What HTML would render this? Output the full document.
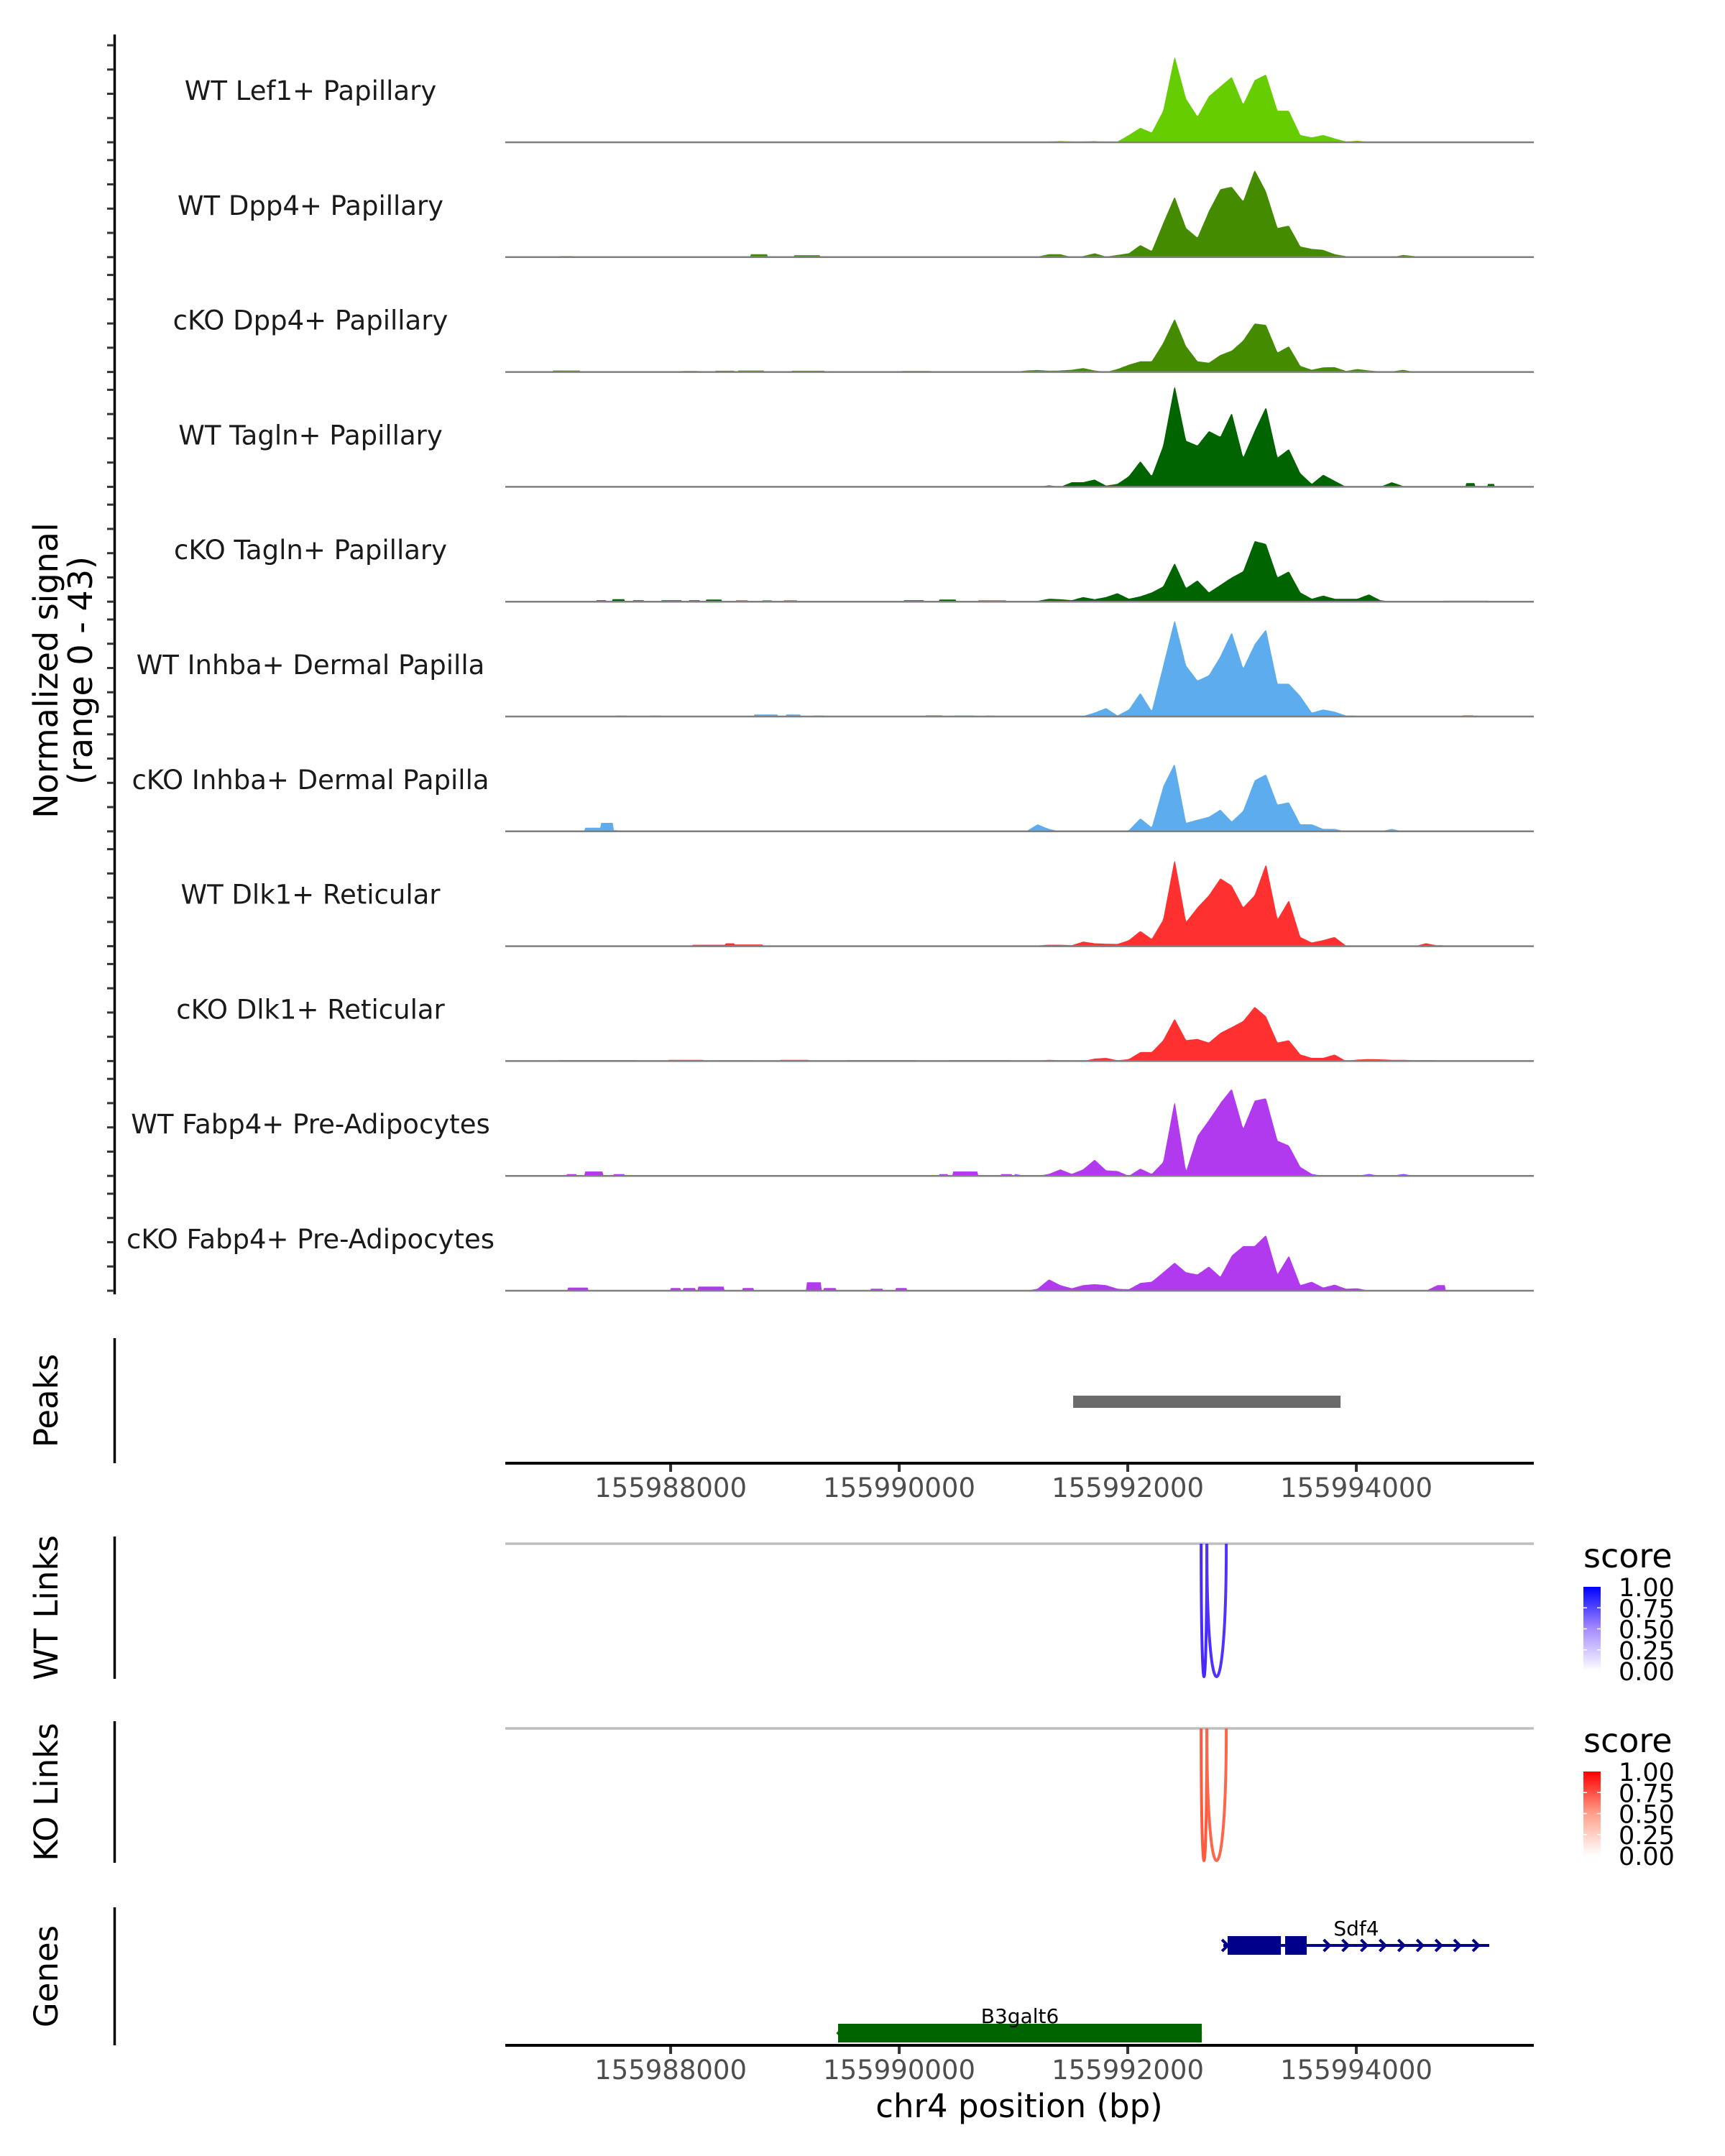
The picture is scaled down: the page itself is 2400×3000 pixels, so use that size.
<!DOCTYPE html>
<html><head><meta charset="utf-8">
<style>
html,body{margin:0;padding:0;background:#fff;}
svg{display:block;font-family:"DejaVu Sans","Liberation Sans",sans-serif;}
</style></head>
<body>
<svg id="chart" xmlns="http://www.w3.org/2000/svg" width="2400" height="3000" viewBox="0 0 2400 3000">
<rect x="0" y="0" width="2400" height="3000" fill="#fff"/>
<g id="tracks"></g>
<g id="ylab">
<text x="0" y="0" transform="translate(80,933) rotate(-90)" text-anchor="middle" font-size="46" fill="#000">Normalized signal</text>
<text x="0" y="0" transform="translate(128,933) rotate(-90)" text-anchor="middle" font-size="46" fill="#000">(range 0 - 43)</text>
</g>
<g id="lower"></g>
</svg>
<script>
const NS = "http://www.w3.org/2000/svg";
const X_MIN = 155986553, X_MAX = 155995553;
const CORE_START = 155990960, CORE_STEP = 100;
const trackNames = ["WT Lef1+ Papillary","WT Dpp4+ Papillary","cKO Dpp4+ Papillary","WT Tagln+ Papillary","cKO Tagln+ Papillary","WT Inhba+ Dermal Papilla","cKO Inhba+ Dermal Papilla","WT Dlk1+ Reticular","cKO Dlk1+ Reticular","WT Fabp4+ Pre-Adipocytes","cKO Fabp4+ Pre-Adipocytes"];
const trackColors = ["#66cd00","#458b00","#458b00","#006400","#006400","#5cacee","#5cacee","#ff3030","#ff3030","#b23aee","#b23aee"];
const core1 = [0,0,0,0.3,0.5,0.3,0.3,0.5,0,0.3,3,6,4,13,35.6,18,10.6,19,23,27,15.6,25.6,28,13,13,3,2,3,1.6,0.3,0.6,0.2,0.2,0.2,0.2,0.2,0.2,0.2];
const core2 = [0,0.4,0.2,1.2,1.2,0,0.4,1.6,0.2,0.9,1.6,5,2.5,14,25,12,8,19,28,29,23,36,27,12,13,4.4,3.4,3,1.2,0.4,0.2,0,0,0,0.9,0.4,0,0];
const core3 = [0,0.6,0.8,0.5,0.6,0.9,1.6,0.6,0,1.2,3,4.4,4.4,12,22,10.6,4.4,3.8,7,8.8,13,20,19.4,8,10.6,2.5,0.9,1.9,2,0.4,1.2,0.6,0.2,0.2,0.9,0,0,0];
const core4 = [0,0,0,0.6,0,1.9,1.9,3,0.5,1.2,4.4,10.6,4.4,17,42,19,17,23,20.6,30.6,12,23,33,12,15.6,5.6,1.2,5,2.5,0,0,0,0,1.9,0.3,0,0,0];
const core5 = [0,0,0.3,1.2,1,0.6,1.9,1,1.9,3.5,1.2,2.2,3.8,6.3,16,5.6,8.8,3.8,6.9,10,12.5,25,23.8,10,12.5,3.8,1.2,2.5,1.2,1.2,1.2,3,0.6,0,0,0,0,0];
const core6 = [0,0.3,0,0.1,0.2,0.2,0.2,1.6,3.5,0.4,2.9,9.8,2.2,21,40,21,14.8,17,24.8,34.8,19.8,29.8,36,13.5,13.5,8.5,1.6,2.9,2,0.4,0.3,0,0,0,0,0,0,0];
const core7 = [0,0,2.9,1,0,0,0,0,0,0,0.5,5.4,1.6,18.5,28,3.5,4.8,6,9,4,8.5,21,23.5,11,12,2.9,2.9,1,1,0,0,0,0,1,0,0,0,0];
const core8 = [0,0,0.3,0.6,0.6,0.4,1.9,1.2,1,0.9,2.5,6.3,3,11,36,10,16,21,28,25,16,21,34,11,19,3.8,1.5,2.5,3.8,0.2,0.2,0.2,0.2,0.2,0.3,0,1.2,0.3];
const core9 = [0,0,0,0.5,0.3,0.3,0,1,1.3,0.3,0.8,3.7,3.7,8.6,17.5,8.6,9.1,7.6,11.6,14,16.5,22.4,18.4,7.6,8.6,2.7,1.3,1.3,2.7,0,0.6,0.8,0.7,0.5,0.5,0.3,0.4,0.3];
const core10 = [0.8,0,0,0.8,2.7,0.8,2.7,6.7,2.3,2,0,3,0.8,5.7,31,1.8,16.5,23,30,36,19.4,31,32,14.5,12.5,3.7,0.8,0,0,0,0,0.8,0,0,0.8,0,0,0];
const core11 = [0,0,0.8,4.7,2.3,1,2.3,2.7,2.3,0.8,0.6,3.2,3.7,7.6,11.6,7.6,6.7,10,5.7,14.5,18.4,18.4,23,6.7,14.5,2.3,3.7,1.3,2.5,0.8,1,0,0,0,0,0,0,2.3];
const blips1 = [[155987060,155987360,0.2],[155988660,155988960,0.2],[155989560,155989760,0.3],[155994960,155995260,0.3]];
const blips2 = [[155987030,155987150,0.4],[155988414,155988515,0.3],[155988703,155988847,1.2],[155988875,155988976,0.3],[155989077,155989308,0.8],[155989481,155989567,0.3],[155990014,155990115,0.3],[155990230,155990345,0.3],[155990388,155990489,0.3],[155990763,155990864,0.3],[155994760,155994900,0.3]];
const blips3 = [[155986973,155987204,0.6],[155987636,155987751,0.3],[155987867,155987982,0.3],[155988097,155988241,0.4],[155988385,155988558,0.5],[155988587,155988818,0.6],[155988878,155989020,0.3],[155989063,155989351,0.5],[155989452,155989567,0.3],[155989596,155989697,0.3],[155989783,155989898,0.3],[155990015,155990273,0.4]];
const blips4 = [[155994960,155995040,1.5],[155995150,155995210,1.2]];
const blips5 = [[155987348,155987434,0.6],[155987492,155987593,1.0],[155987665,155987766,0.6],[155987919,155988097,0.6],[155988155,155988256,0.6],[155988313,155988443,0.9],[155988573,155988674,0.5],[155988795,155988890,0.5],[155988991,155989106,0.5],[155990043,155990216,0.6],[155990351,155990495,0.9],[155990691,155990936,0.5],[155994760,155995160,0.4]];
const blips6 = [[155987521,155987622,0.4],[155987823,155987919,0.4],[155988731,155988933,0.8],[155989005,155989135,0.8],[155989250,155989337,0.4],[155990224,155990374,0.5],[155990475,155990662,0.4],[155990754,155990841,0.4],[155994930,155995025,0.5]];
const blips7 = [[155987247,155987390,1.5],[155987390,155987500,3.5],[155987500,155987540,0.5]];
const blips8 = [[155988184,155988480,0.6],[155988480,155988560,1.2],[155988560,155988803,0.7],[155994610,155994760,0.4],[155995010,155995160,0.3]];
const blips9 = [[155987017,155987708,0.4],[155987982,155988285,0.5],[155988385,155988731,0.3],[155988962,155989207,0.5],[155989538,155990144,0.4],[155990432,155990979,0.4]];
const blips10 = [[155987089,155987181,0.7],[155987247,155987406,1.8],[155987498,155987593,0.7],[155990351,155990432,0.7],[155990466,155990691,1.8],[155990887,155990985,0.7]];
const blips11 = [[155987097,155987282,1.3],[155987996,155988089,1.1],[155988112,155988213,1.1],[155988241,155988466,1.7],[155988625,155988723,1.1],[155989187,155989322,3.5],[155989337,155989452,1.1],[155989746,155989855,0.8],[155989970,155990071,1.1],[155994700,155994780,2.3]];
const coreData = [core1,core2,core3,core4,core5,core6,core7,core8,core9,core10,core11];
const blipData = [blips1,blips2,blips3,blips4,blips5,blips6,blips7,blips8,blips9,blips10,blips11];
const yTicks = [0,10,20,30,40];
const xTicks = [155988000,155990000,155992000,155994000];
const peakRanges = [[155991522,155993862]];
const wtLinks = [[155992642,155992692,0.85],[155992692,155992862,0.8]];
const koLinks = [[155992642,155992692,0.8],[155992692,155992862,0.75]];
const legendTicks = [0,0.25,0.5,0.75,1];
const genes = [
  {name:"Sdf4", start:155992836, end:155995163, strand:1, exons:[[155992874,155993340],[155993377,155993566]], color:"#00008b", row:0},
  {name:"B3galt6", start:155989465, end:155992648, strand:-1, exons:[[155989465,155992648]], color:"#006400", row:1}
];

const PX0 = 703, PX1 = 2134;
function xs(bp){ return PX0 + (bp - X_MIN) / (X_MAX - X_MIN) * (PX1 - PX0); }
const BASE0 = 198, TRACK_GAP = 159.8, UNIT = 3.375;
function ys(i, v){ return BASE0 + i*TRACK_GAP - v*UNIT; }

function mk(tag, attrs, parent){
  const e = document.createElementNS(NS, tag);
  for (const k in attrs) e.setAttribute(k, attrs[k]);
  parent.appendChild(e);
  return e;
}
function valueAt(i, bp){
  const core = coreData[i];
  const c0 = CORE_START + CORE_STEP/2;
  const cN = c0 + (core.length-1)*CORE_STEP;
  if (bp >= c0 && bp <= cN){
    const f = (bp - c0)/CORE_STEP;
    const k = Math.min(Math.floor(f), core.length-2);
    const t = f - k;
    return core[k]*(1-t) + core[k+1]*t;
  }
  let v = 0;
  for (const b of blipData[i]) if (bp >= b[0] && bp <= b[1]) v = Math.max(v, b[2]);
  return v;
}

const tracksG = document.getElementById("tracks");
const yAxis = mk("line", {x1:159.5, y1:48, x2:159.5, y2:1801, stroke:"#000", "stroke-width":3.5}, tracksG);



for (let i = 0; i < trackNames.length; i++){
  const g = mk("g", {}, tracksG);
  
  
  let d = "M" + xs(X_MIN).toFixed(1) + "," + ys(i,0).toFixed(1);
  for (let bp = X_MIN; bp <= X_MAX; bp += 10){
    d += "L" + xs(bp).toFixed(1) + "," + ys(i, valueAt(i,bp)).toFixed(1);
  }
  d += "L" + xs(X_MAX).toFixed(1) + "," + ys(i,0).toFixed(1) + "Z";
  const area = mk("path", {d:d, fill:trackColors[i], stroke:"none"}, g);
  
  
  const bl = mk("line", {x1:xs(X_MIN), x2:xs(X_MAX), y1:ys(i,0), y2:ys(i,0), stroke:"#7f7f7f", "stroke-width":2.5}, g);
  
  
  const lab = mk("text", {x:432, y:ys(i,0)-59, "text-anchor":"middle", "font-size":37, fill:"#1a1a1a"}, g);
  lab.textContent = trackNames[i];
  
  
  for (const t of yTicks){
    const tk = mk("line", {x1:149, x2:159, y1:ys(i,t), y2:ys(i,t), stroke:"#333", "stroke-width":3}, g);
    
    
  }
}

const low = document.getElementById("lower");
function leftAxis(y1, y2, label){
  const l = mk("line", {x1:159.5, x2:159.5, y1:y1, y2:y2, stroke:"#000", "stroke-width":3.5}, low);
  
  
  const t = mk("text", {x:0, y:0, transform:"translate(80," + ((y1+y2)/2) + ") rotate(-90)", "text-anchor":"middle", "font-size":45, fill:"#000"}, low);
  t.textContent = label;
  
  
}
function xAxis(y, name){
  const l = mk("line", {x1:PX0, x2:PX1, y1:y, y2:y, stroke:"#000", "stroke-width":4}, low);
  
  
  for (const t of xTicks){
    const tk = mk("line", {x1:xs(t), x2:xs(t), y1:y+2, y2:y+12, stroke:"#333", "stroke-width":4}, low);
    
    
    const tl = mk("text", {x:xs(t), y:y+47, "text-anchor":"middle", "font-size":37, fill:"#4d4d4d"}, low);
    tl.textContent = String(t);
    
    
  }
}
leftAxis(1862, 2036, "Peaks");
for (const p of peakRanges){
  const r = mk("rect", {x:xs(p[0]), y:1942, width:xs(p[1])-xs(p[0]), height:17, fill:"#6b6b6b"}, low);
  
  
}
xAxis(2036, "peaks-x-axis");

function mix(a, b, t){
  const pa = [1,3,5].map(k=>parseInt(a.substr(k,2),16));
  const pb = [1,3,5].map(k=>parseInt(b.substr(k,2),16));
  return "rgb(" + pa.map((v,j)=>Math.round(v+(pb[j]-v)*t)).join(",") + ")";
}
function scoreColor(stops, s){
  return s < 0.5 ? mix(stops[0], stops[1], s/0.5) : mix(stops[1], stops[2], (s-0.5)/0.5);
}
function linksPanel(links, top, bottom, stops, arcStops, label, legTop){
  leftAxis(top-10, bottom, label);
  const gl = mk("line", {x1:PX0, x2:PX1, y1:top, y2:top, stroke:"#bebebe", "stroke-width":3.5}, low);
  
  
  const depth = (bottom - 3 - top) / 0.75;
  for (const L of links){
    const a = xs(L[0]), b = xs(L[1]);
    const p = mk("path", {d:"M"+a+","+top+" C"+a+","+(top+depth)+" "+b+","+(top+depth)+" "+b+","+top, fill:"none", stroke:scoreColor(arcStops, L[2]), "stroke-width":4}, low);
    
    
  }
  const lt = mk("text", {x:2203, y:legTop, "font-size":46, fill:"#000"}, low);
  lt.textContent = "score";
  
  
  const gid = "grad" + label.replace(/ /g,'');
  const defs = mk("defs", {}, low);
  const lg = mk("linearGradient", {id:gid, x1:0, y1:1, x2:0, y2:0}, defs);
  mk("stop", {offset:"0", "stop-color":stops[0]}, lg);
  mk("stop", {offset:"0.5", "stop-color":stops[1]}, lg);
  mk("stop", {offset:"1", "stop-color":stops[2]}, lg);
  const barTop = legTop + 27, barBot = legTop + 144;
  const bar = mk("rect", {x:2203, y:barTop, width:24, height:barBot-barTop, fill:"url(#"+gid+")"}, low);
  
  
  for (const v of legendTicks){
    const yy = barBot - v*(barBot-barTop);
    if (v > 0 && v < 1){
      const t1 = mk("line", {x1:2203, x2:2208, y1:yy, y2:yy, stroke:"#fff", "stroke-width":1.5}, low);
      
      
      const t2 = mk("line", {x1:2222, x2:2227, y1:yy, y2:yy, stroke:"#fff", "stroke-width":1.5}, low);
      
      
    }
    const tx = mk("text", {x:2252, y:yy+13, "font-size":35, fill:"#000"}, low);
    tx.textContent = v.toFixed(2);
    
    
  }
}
linksPanel(wtLinks, 2148, 2336, ["#ffffff","#a58cff","#0000ff"], ["#ffffff","#8a66ff","#2a10ff"], "WT Links", 2181);
linksPanel(koLinks, 2405, 2592, ["#ffffff","#ffa08c","#ff0000"], ["#ffffff","#ff9a80","#ff3010"], "KO Links", 2438);

leftAxis(2654, 2846, "Genes");
const rowY = [2707, 2829];
for (const gn of genes){
  const g = mk("g", {}, low);
  
  
  const y = rowY[gn.row];
  const ln = mk("line", {x1:xs(gn.start), x2:xs(gn.end), y1:y, y2:y, stroke:gn.color, "stroke-width":4}, g);
  
  
  const lastExonEnd = Math.max(...gn.exons.map(e=>e[1]));
  const chevs = [gn.start + 20];
  for (let bp = lastExonEnd + 180; bp < gn.end; bp += 163) chevs.push(bp);
  for (const c of chevs){
    const cx = xs(c), s = gn.strand;
    const ch = mk("polyline", {points:(cx-5*s)+","+(y-8)+" "+(cx+3*s)+","+y+" "+(cx-5*s)+","+(y+8), fill:"none", stroke:gn.color, "stroke-width":4}, g);
    
    
  }
  for (const e of gn.exons){
    const r = mk("rect", {x:xs(e[0]), y:y-13, width:xs(e[1])-xs(e[0]), height:26, fill:gn.color}, g);
    
    
  }
  const t = mk("text", {x:(xs(gn.start)+xs(gn.end))/2, y:y-14, "text-anchor":"middle", "font-size":28, fill:"#000"}, g);
  t.textContent = gn.name;
  
  
}
xAxis(2846, "genes-x-axis");
const xt = mk("text", {x:1418, y:2946, "text-anchor":"middle", "font-size":45, fill:"#000"}, low);
xt.textContent = "chr4 position (bp)";


</script>
</body></html>
